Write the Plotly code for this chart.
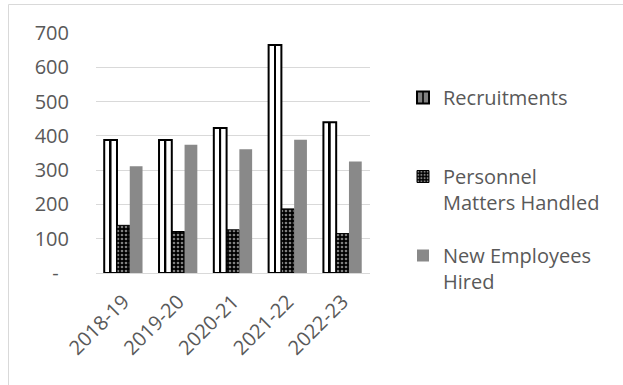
import plotly.graph_objects as go

years = ["2018-19", "2019-20", "2020-21", "2021-22", "2022-23"]
recruitments = [388, 388, 423, 665, 440]
personnel = [139, 121, 126, 187, 115]
new_hired = [311, 374, 361, 389, 325]

y_ticks = [0, 100, 200, 300, 400, 500, 600, 700]
y_ticktext = ["-\u00a0\u00a0", "100", "200", "300", "400", "500", "600", "700"]

FONT = "Open Sans"
TXT = "#595959"
GRID = "#d9d9d9"
GRAY = "#898989"

W, H = 623, 385
ML, MR, MT, MB = 96, 253, 33, 112
PW, PH = W - ML - MR, H - MT - MB

bw = 0.233
fig = go.Figure()

# legend-only entry for Recruitments
fig.add_trace(go.Bar(x=[None], y=[None], name="Recruitments<br> ", legendgroup="a",
                     marker=dict(color="white", line=dict(color="black", width=2),
                                 pattern=dict(shape="|", size=12, solidity=0.8,
                                              fgcolor="white", bgcolor="black")),
                     hoverinfo="skip"))
fig.add_trace(go.Bar(x=years, y=recruitments, name="Recruitments", legendgroup="a",
                     showlegend=False, offset=-0.35, width=bw,
                     marker=dict(color="white", line=dict(color="black", width=2))))
# center stripe of Recruitments bars
fig.add_trace(go.Bar(x=years, y=recruitments, name="Recruitments", legendgroup="a",
                     showlegend=False, offset=-0.35 + bw / 2 - 0.017, width=0.034,
                     marker=dict(color="black", line=dict(width=0)), hoverinfo="skip"))
fig.add_trace(go.Bar(x=years, y=personnel, name="Personnel<br>Matters Handled",
                     legendgroup="b", offset=-0.35 + bw, width=bw,
                     marker=dict(color="black", line=dict(color="black", width=1),
                                 pattern=dict(shape=".", size=4, solidity=0.35,
                                              fgcolor="white", bgcolor="black"))))
fig.add_trace(go.Bar(x=years, y=new_hired, name="New Employees<br>Hired",
                     legendgroup="c", offset=-0.35 + 2 * bw, width=bw,
                     marker=dict(color=GRAY, line=dict(width=0))))

def px_x(p):
    return (p - ML) / PW

def px_y(p):
    return (H - MB - p) / PH

fig.update_layout(
    width=W, height=H,
    margin=dict(l=ML, r=MR, t=MT, b=MB),
    barmode="overlay",
    plot_bgcolor="white", paper_bgcolor="white",
    font=dict(family=FONT, size=20, color=TXT),
    showlegend=True,
    legend=dict(x=px_x(403), y=px_y(78), xanchor="left", yanchor="top",
                font=dict(family=FONT, size=20, color=TXT),
                tracegroupgap=24, valign="top", bgcolor="rgba(0,0,0,0)"),
    xaxis=dict(type="category", tickangle=-45, showline=True, linecolor=GRID,
               linewidth=1, showgrid=False, ticks="", ticklabelstandoff=8,
               tickfont=dict(size=20, color=TXT)),
    yaxis=dict(range=[0, 700], tickvals=y_ticks, ticktext=y_ticktext,
               showgrid=True, gridcolor=GRID, gridwidth=1, zeroline=False,
               showline=False, ticks="", ticklabelstandoff=26,
               tickfont=dict(size=20, color=TXT)),
    shapes=[dict(type="rect", xref="paper", yref="paper",
                 x0=px_x(8.5), x1=px_x(640), y0=px_y(400), y1=px_y(4.5),
                 line=dict(color=GRID, width=1), fillcolor="rgba(0,0,0,0)",
                 layer="below")],
)

fig.write_html("out.html")
